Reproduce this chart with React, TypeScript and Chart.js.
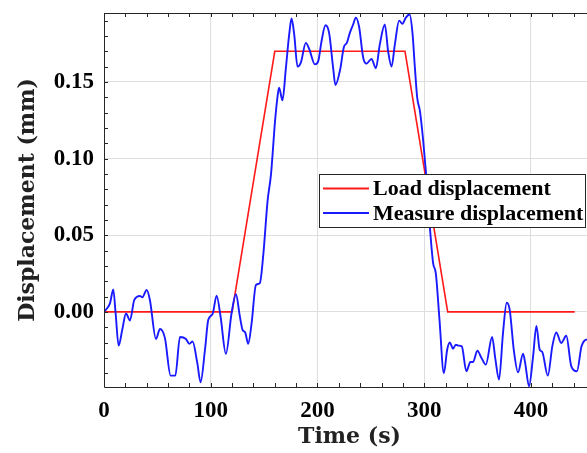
import React, { useEffect, useRef } from 'react';
import { Chart, registerables } from 'chart.js';

Chart.register(...registerables);

// Load displacement (red)
const loadTime = [0, 120, 160, 282, 322, 441];
const loadDisp = [0, 0, 0.17, 0.17, 0, 0];

// Measured displacement (blue)
const measTime = [
  0, 5.6, 8.7, 10.9, 13.7, 17.1, 20.6, 24.3, 28.4, 33.7, 35.9, 40, 43, 48.7, 52.4, 57.1,
  62.4, 66.8, 71.2, 76.8, 79.9, 83, 87.4, 90.5, 94.6, 97.7, 101.8, 105.5, 109.2, 114.2,
  119.5, 123.6, 127.3, 129.8, 132.3, 135.1, 138.3, 142.3, 146, 149.2, 153.3, 156.5, 160.3,
  162.5, 164, 167.2, 170.4, 173.5, 175.7, 178.2, 181.3, 184.4, 189.1, 192.2, 197.6, 200.7,
  203.8, 207.5, 210.9, 214.7, 216.8, 221.2, 224.8, 227.5, 230.3, 233.4, 235.9, 239, 242.8,
  245.9, 250.6, 254.7, 258.4, 263.1, 266.2, 269.4, 272.5, 276.5, 279.6, 282.8, 286.3, 289,
  291.2, 293.4, 296, 299, 301.5, 305, 308.3, 310.9, 314.3, 318.4, 321.5, 324, 327, 329.6,
  332, 335.2, 339.5, 343.3, 345.8, 349.8, 353.6, 357.7, 363.6, 366.7, 370.1, 373.8, 377.3,
  380.1, 383.9, 387.9, 392.6, 394.5, 398.2, 402, 405.1, 408.2, 410.5, 415.8, 420, 423.7,
  428.4, 433.1, 437.8, 443.1, 447.3, 450.4, 453
];
const measDisp = [
  0, 0.0056, 0.0147, -0.001, -0.022, -0.0117, -0.001, -0.0056, 0.0078, 0.0104, 0.0095, 0.0143,
  0.0078, -0.0177, -0.0112, -0.0171, -0.0416, -0.0416, -0.0164, -0.0177, -0.0208, -0.0193,
  -0.0333, -0.0459, -0.0247, -0.0052, -0.0013, 0.0106, -0.003, -0.0273, -0.0009, 0.0115,
  -0.003, -0.0117, -0.0134, -0.0208, -0.0073, 0.0175, 0.0188, 0.037, 0.0727, 0.09, 0.125,
  0.14, 0.1463, 0.138, 0.159, 0.181, 0.1914, 0.181, 0.16, 0.1626, 0.1755, 0.1716, 0.1615,
  0.1636, 0.1766, 0.187, 0.182, 0.159, 0.148, 0.158, 0.173, 0.1755, 0.182, 0.1875, 0.192,
  0.186, 0.166, 0.162, 0.165, 0.159, 0.1745, 0.1875, 0.17, 0.16, 0.1745, 0.19, 0.188, 0.192,
  0.194, 0.182, 0.16, 0.14, 0.131, 0.112, 0.092, 0.058, 0.032, 0.025, -0.005, -0.04, -0.0247,
  -0.02, -0.024, -0.0214, -0.022, -0.0225, -0.0387, -0.0327, -0.0327, -0.0253, -0.03, -0.0344,
  -0.0164, -0.031, -0.0442, -0.0138, 0.006, 0.0013, -0.0247, -0.0394, -0.0273, -0.033, -0.0485,
  -0.029, -0.0091, -0.0247, -0.026, -0.0416, -0.0225, -0.0134, -0.0203, -0.0156, -0.0355,
  -0.0387, -0.0225, -0.0186, -0.018
];

const seriesLabels = ['Load displacement', 'Measure displacement'];
const seriesColors = ['#ff1a1a', '#1a1aff'];

const xTickLabels = [0, 100, 200, 300, 400];
const yTickLabels = [0, 0.05, 0.1, 0.15];
const xMinorStep = 20;
const yMinorStep = 0.01;
const xRange = [0, 460];
const yRange = [-0.049, 0.195];

const xTitle = 'Time (s)';
const yTitle = 'Displacement (mm)';

const tickFont = { family: "'Liberation Serif', 'Times New Roman', serif", size: 23, weight: 'bold' as const };
const titleFont = { family: "'DejaVu Serif', serif", size: 22, weight: 'bold' as const };

function minorTicks(min: number, max: number, step: number): number[] {
  const out: number[] = [];
  const start = Math.ceil(min / step - 1e-9);
  const end = Math.floor(max / step + 1e-9);
  for (let k = start; k <= end; k++) out.push(Math.round(k * step * 1e6) / 1e6);
  return out;
}
const xAllTicks = minorTicks(xRange[0], xRange[1], xMinorStep);
const yAllTicks = minorTicks(yRange[0], yRange[1], yMinorStep);

const isMajor = (list: number[], v: number) => list.some((m) => Math.abs(m - v) < 1e-7);

const framePlugin = {
  id: 'frameLegend',
  afterDatasetsDraw(chart: any) {
    const { ctx, chartArea: a, scales } = chart;
    ctx.save();
    ctx.strokeStyle = '#262626';
    ctx.lineWidth = 1;
    // frame
    ctx.beginPath();
    ctx.moveTo(a.left + 0.5, a.top + 0.5);
    ctx.lineTo(a.right - 0.5, a.top + 0.5);
    ctx.lineTo(a.right - 0.5, a.bottom + 0.5);
    ctx.lineTo(a.left + 0.5, a.bottom + 0.5);
    ctx.closePath();
    ctx.stroke();
    // inward ticks
    const tl = 4;
    ctx.beginPath();
    for (const v of xAllTicks) {
      const px = Math.round(scales.x.getPixelForValue(v)) + 0.5;
      ctx.moveTo(px, a.bottom);
      ctx.lineTo(px, a.bottom - tl);
      ctx.moveTo(px, a.top);
      ctx.lineTo(px, a.top + tl);
    }
    for (const v of yAllTicks) {
      const py = Math.round(scales.y.getPixelForValue(v)) + 0.5;
      ctx.moveTo(a.left, py);
      ctx.lineTo(a.left + tl, py);
      ctx.moveTo(a.right, py);
      ctx.lineTo(a.right - tl, py);
    }
    ctx.stroke();

    // legend
    const bx = 319, by = 174, bw = 266, bh = 53;
    ctx.fillStyle = '#ffffff';
    ctx.fillRect(bx, by, bw, bh);
    ctx.strokeStyle = '#262626';
    ctx.strokeRect(bx + 0.5, by + 0.5, bw, bh);
    ctx.font = "bold 22px 'Liberation Serif', 'Times New Roman', serif";
    ctx.textBaseline = 'middle';
    ctx.textAlign = 'left';
    chart.data.datasets.forEach((ds: any, i: number) => {
      const ly = by + 14.5 + i * 24.5;
      ctx.strokeStyle = ds.borderColor;
      ctx.lineWidth = 1.8;
      ctx.beginPath();
      ctx.moveTo(bx + 4, ly);
      ctx.lineTo(bx + 50, ly);
      ctx.stroke();
      ctx.fillStyle = '#000000';
      ctx.fillText(ds.label, bx + 54, ly + 1);
    });
    ctx.restore();
  },
};

export default function App() {
  const ref = useRef<HTMLCanvasElement | null>(null);

  useEffect(() => {
    if (!ref.current) return;
    const chart = new Chart(ref.current, {
      type: 'line',
      data: {
        datasets: [
          {
            label: seriesLabels[0],
            data: loadTime.map((t, i) => ({ x: t, y: loadDisp[i] })),
            borderColor: seriesColors[0],
            borderWidth: 1.6,
            pointRadius: 0,
            tension: 0,
            order: 1,
          },
          {
            label: seriesLabels[1],
            data: measTime.map((t, i) => ({ x: t, y: measDisp[i] })),
            borderColor: seriesColors[1],
            borderWidth: 1.9,
            pointRadius: 0,
            cubicInterpolationMode: 'monotone',
            order: 0,
          },
        ],
      },
      options: {
        animation: false,
        responsive: false,
        devicePixelRatio: 1,
        layout: { padding: { top: 13, right: 5, left: 0, bottom: 0 } },
        plugins: { legend: { display: false }, tooltip: { enabled: false } },
        scales: {
          x: {
            type: 'linear',
            min: xRange[0],
            max: xRange[1],
            border: { display: false },
            afterBuildTicks: (s: any) => {
              s.ticks = xAllTicks.map((v) => ({ value: v }));
            },
            afterFit: (s: any) => {
              s.height = 66;
              s.paddingLeft = 0;
              s.paddingRight = 0;
            },
            grid: {
              drawTicks: false,
              color: (c: any) =>
                c.tick && isMajor(xTickLabels, c.tick.value) && c.tick.value !== xRange[0]
                  ? '#dedede'
                  : 'rgba(0,0,0,0)',
              lineWidth: 1,
            },
            ticks: {
              autoSkip: false,
              maxRotation: 0,
              padding: 10,
              color: '#000',
              font: tickFont,
              callback: (v: any) => (isMajor(xTickLabels, Number(v)) ? String(v) : ''),
            },
            title: {
              display: true,
              text: xTitle,
              color: '#222',
              font: titleFont,
              padding: { top: 0, bottom: 3 },
            },
          },
          y: {
            type: 'linear',
            min: yRange[0],
            max: yRange[1],
            border: { display: false },
            afterBuildTicks: (s: any) => {
              s.ticks = yAllTicks.map((v) => ({ value: v }));
            },
            afterFit: (s: any) => {
              s.width = 104;
              s.paddingTop = 0;
              s.paddingBottom = 0;
            },
            grid: {
              drawTicks: false,
              color: (c: any) =>
                c.tick && isMajor(yTickLabels, c.tick.value) ? '#dedede' : 'rgba(0,0,0,0)',
              lineWidth: 1,
            },
            ticks: {
              autoSkip: false,
              padding: 10,
              color: '#000',
              font: tickFont,
              callback: (v: any) => (isMajor(yTickLabels, Number(v)) ? Number(v).toFixed(2) : ''),
            },
            title: {
              display: true,
              text: yTitle,
              color: '#222',
              font: titleFont,
              padding: { top: 15, bottom: 0 },
            },
          },
        },
      },
      plugins: [framePlugin],
    } as any);
    return () => chart.destroy();
  }, []);

  return (
    <div
      style={{
        position: 'fixed',
        left: 0,
        top: 0,
        width: 587,
        height: 453,
        overflow: 'hidden',
        background: '#fff',
      }}
    >
      <canvas ref={ref} width={600} height={453} style={{ width: 600, height: 453, display: 'block' }} />
    </div>
  );
}
